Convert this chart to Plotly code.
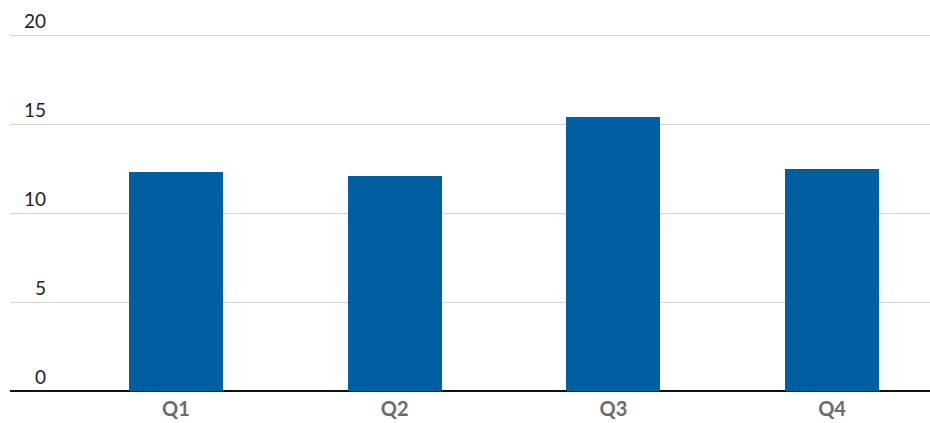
import plotly.graph_objects as go

categories = ["Q1", "Q2", "Q3", "Q4"]
values = [12.3, 12.1, 15.4, 12.5]
y_ticks = [0, 5, 10, 15, 20]
y_tick_labels = ["0", "5", "10", "15", "20"]

fig = go.Figure()
fig.add_trace(go.Bar(
    x=categories, y=values, marker=dict(color="#005FA0", line=dict(width=0)),
    width=0.43, hoverinfo="skip",
))

for v, t in zip(y_ticks, y_tick_labels):
    fig.add_annotation(
        x=0.0415, xref="paper", xanchor="right",
        y=v, yref="y", yanchor="bottom", yshift=1,
        text=t, showarrow=False,
        font=dict(family="Lato, 'Open Sans', sans-serif", size=19, color="#222222"),
    )

fig.update_layout(
    width=930, height=423,
    margin=dict(l=10, r=0, t=34, b=32, autoexpand=False),
    paper_bgcolor="white", plot_bgcolor="white",
    showlegend=False,
    xaxis=dict(
        range=[-0.759, 3.448], showgrid=False, zeroline=False,
        showline=False, ticks="", automargin=False,
        tickfont=dict(family="Lato, 'Open Sans', sans-serif", size=20, color="#6b6b6b", weight="bold"),
        ticklabelstandoff=4,
    ),
    yaxis=dict(
        range=[0, 20.06], tickvals=y_ticks, showticklabels=False,
        showgrid=True, gridcolor="#d4d4d4", gridwidth=1,
        zeroline=True, zerolinecolor="#111111", zerolinewidth=2,
        showline=False, ticks="", automargin=False,
    ),
    bargap=0,
)

fig.write_html("out.html")
